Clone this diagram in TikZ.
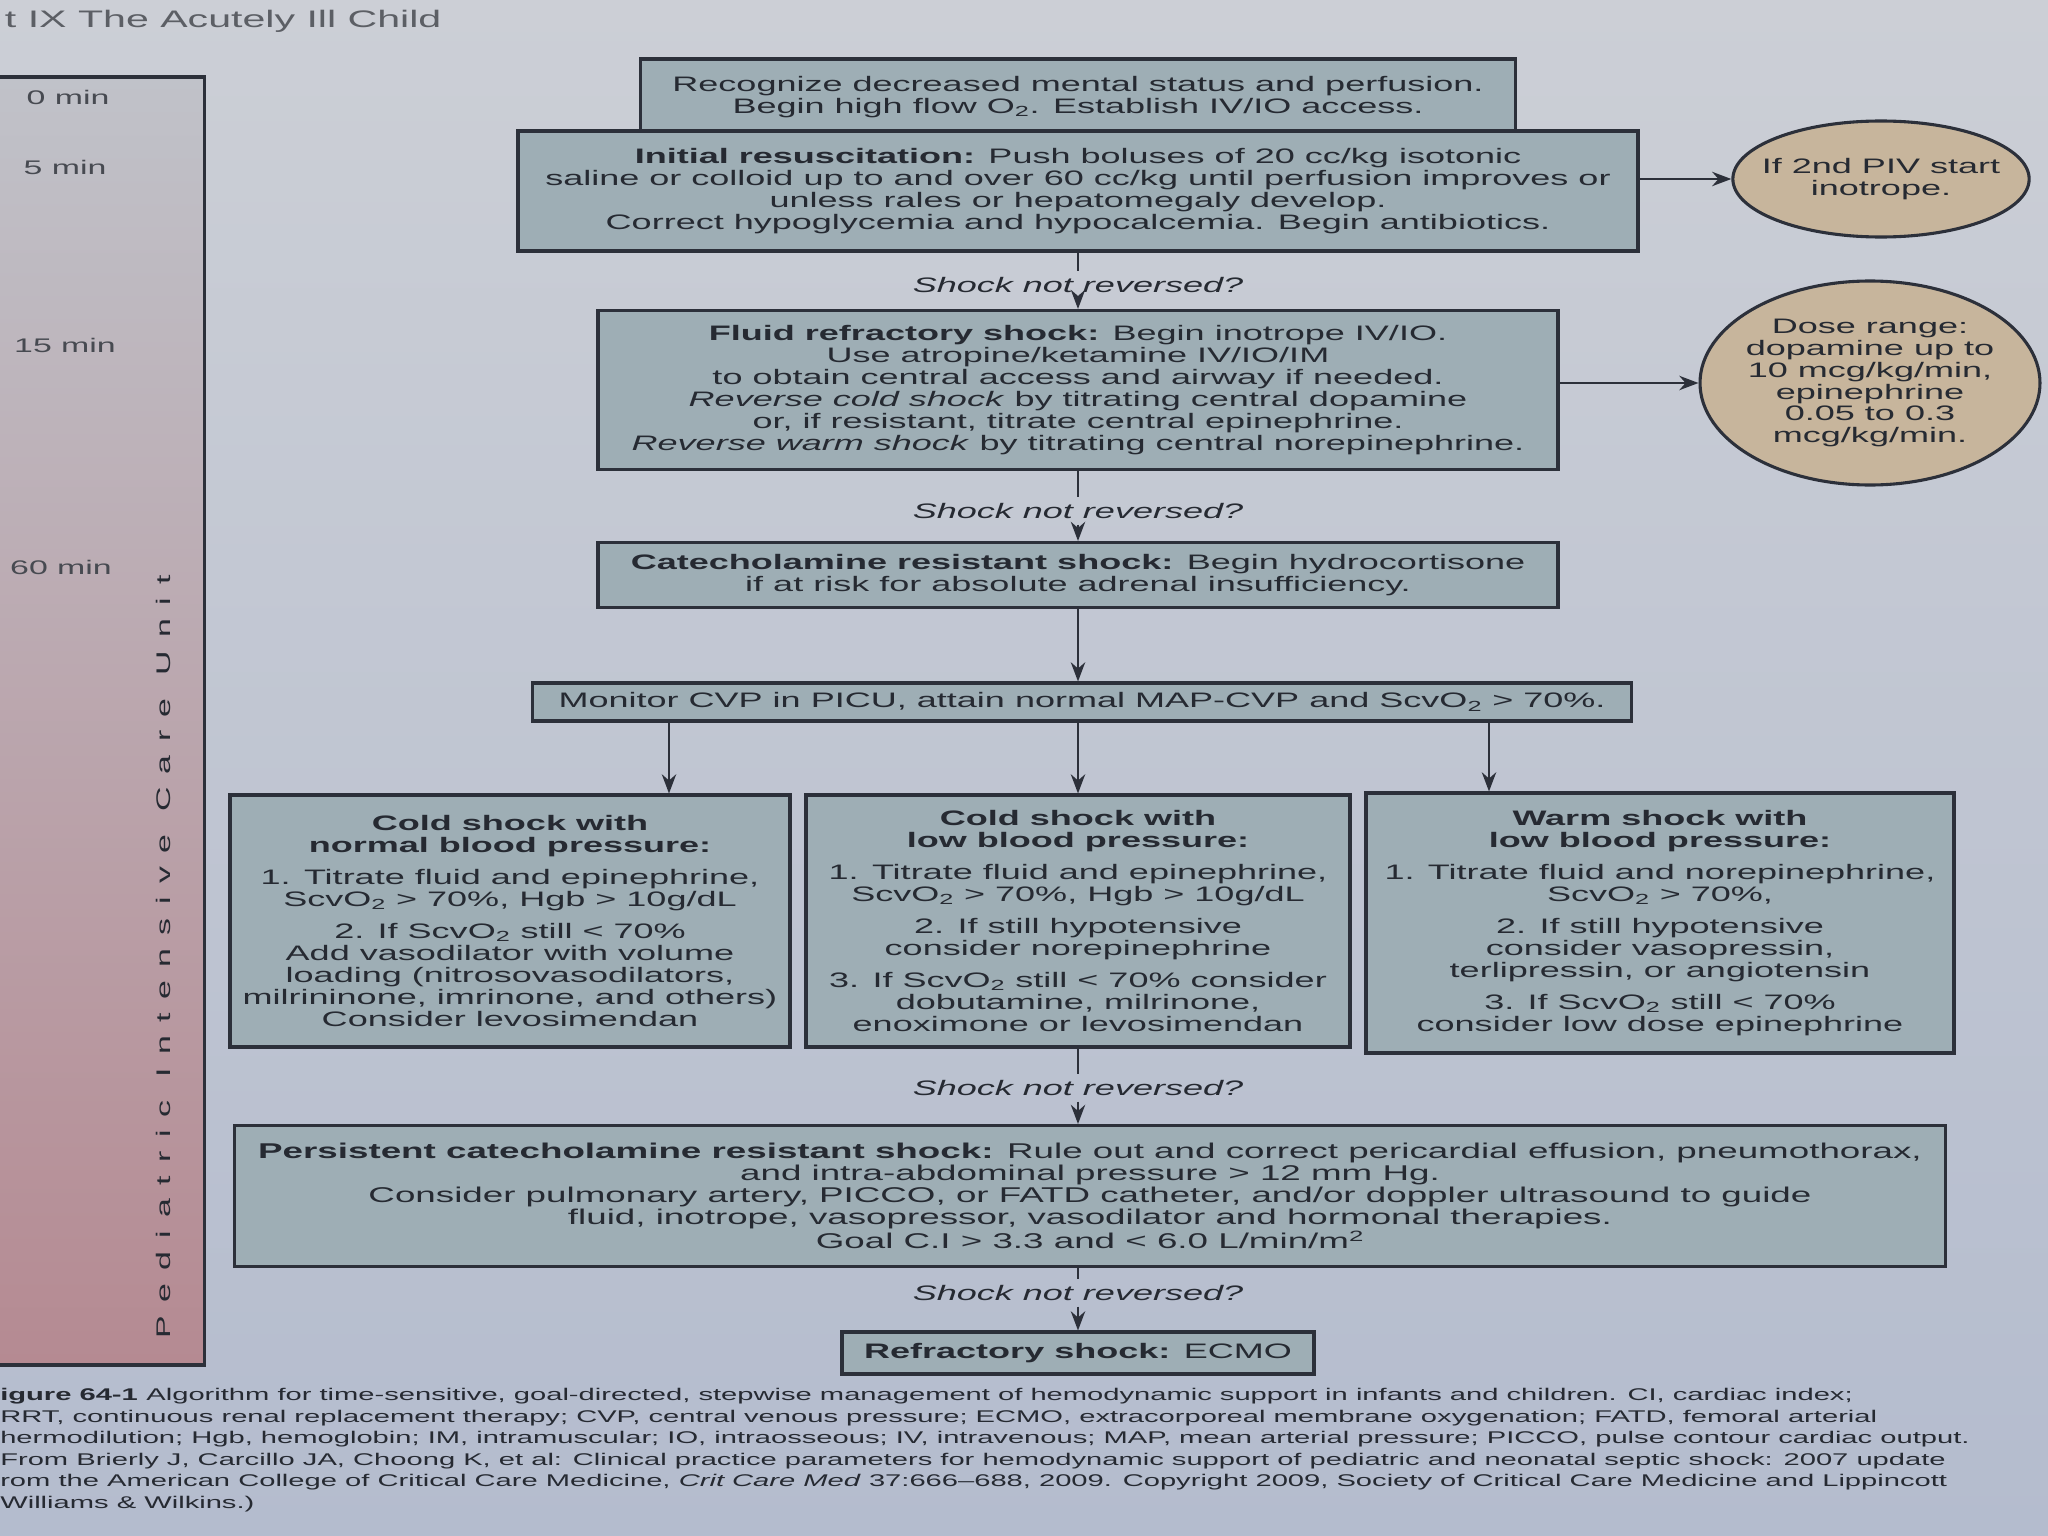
\documentclass[tikz,border=0pt]{standalone}
\usepackage{fontspec}
\setmainfont[FakeStretch=1.72]{Liberation Sans}
\usetikzlibrary{shapes.geometric, arrows.meta}
\definecolor{paper}{RGB}{204,207,214}
\definecolor{paperlow}{RGB}{180,188,206}
\definecolor{boxfill}{RGB}{158,174,181}
\definecolor{boxline}{RGB}{44,48,58}
\definecolor{ink}{RGB}{38,42,50}
\definecolor{tan}{RGB}{199,181,156}
\definecolor{bartop}{RGB}{192,194,201}
\definecolor{barlow}{RGB}{181,138,146}
\tikzstyle{blockgray} = [rectangle, draw=boxline, fill=boxfill, line width=2.2pt, align=center, text=ink, inner sep=2pt, font=\fontsize{14.9}{15.6}\selectfont]
\tikzstyle{blocktan} = [ellipse, draw=boxline, fill=tan, line width=2.2pt, align=center, text=ink, inner sep=0pt, font=\fontsize{14.9}{15.6}\selectfont]
\tikzstyle{query} = [text=ink, inner sep=4pt, font=\itshape\fontsize{14.9}{15.6}\selectfont]
\tikzstyle{tick} = [text=ink!85, font=\fontsize{14}{16}\selectfont]
\tikzstyle{link} = [line width=1.4pt, draw=boxline]
\tikzstyle{arrow} = [line width=1.4pt, draw=boxline, -{Stealth[length=4.8mm, width=3.6mm]}]

\begin{document}
\begin{tikzpicture}[x=0.25mm, y=-0.25mm]

\useasboundingbox (0,0) rectangle (2048,1536);
\shade [top color=paper, bottom color=paperlow] (0,0) rectangle (2048,1536);

\node (header) [anchor=west, text=ink!75, font=\fontsize{17}{19}\selectfont] at (0,21) {t IX The Acutely Ill Child};

\node (timebar) [rectangle, draw=boxline, line width=2.2pt, top color=bartop, bottom color=barlow, minimum width=53.75mm, minimum height=322mm] at (97,721) {};
\node (min0) [tick] at (68,97) {0 min};
\node (min5) [tick] at (65,167) {5 min};
\node (min15) [tick] at (65,345) {15 min};
\node (min60) [tick] at (61,567) {60 min};
\node (picu) [rotate=90, text=ink, font=\addfontfeature{LetterSpace=68}\fontsize{14}{16}\selectfont] at (163,957) {Pediatric Intensive Care Unit};

\node (recog) [blockgray, minimum width=218.75mm, minimum height=19mm] at (1078,97) {Recognize decreased mental status and perfusion.\\Begin high flow O\textsubscript{2}. Establish IV/IO access.};
\node (init) [blockgray, minimum width=280mm, minimum height=30mm] at (1078,191) {\textbf{Initial resuscitation:} Push boluses of 20 cc/kg isotonic\\saline or colloid up to and over 60 cc/kg until perfusion improves or\\unless rales or hepatomegaly develop.\\Correct hypoglycemia and hypocalcemia. Begin antibiotics.};
\node (circ1) [blocktan, minimum width=73mm, minimum height=29mm, inner xsep=-3.6mm] at (1881,179) {If 2nd PIV start\\inotrope.};
\node (query1) [query] at (1078,285) {Shock not reversed?};
\node (fluid) [blockgray, minimum width=240mm, minimum height=39.75mm] at (1078,390) {\textbf{Fluid refractory shock:} Begin inotrope IV/IO.\\Use atropine/ketamine IV/IO/IM\\to obtain central access and airway if needed.\\\textit{Reverse cold shock} by titrating central dopamine\\or, if resistant, titrate central epinephrine.\\\textit{Reverse warm shock} by titrating central norepinephrine.};
\node (circ2) [blocktan, minimum width=81.5mm, minimum height=51mm, inner xsep=-1mm] at (1870,383) {Dose range:\\dopamine up to\\10 mcg/kg/min,\\epinephrine\\0.05 to 0.3\\mcg/kg/min.};
\node (query2) [query] at (1078,511) {Shock not reversed?};
\node (catech) [blockgray, minimum width=240mm, minimum height=16.25mm] at (1078,575) {\textbf{Catecholamine resistant shock:} Begin hydrocortisone\\if at risk for absolute adrenal insufficiency.};
\node (monitor) [blockgray, minimum width=274.75mm, minimum height=9.5mm, inner sep=1pt] at (1082,702) {Monitor CVP in PICU, attain normal MAP-CVP and ScvO\textsubscript{2} > 70\%.};

\node (coldnorm) [blockgray, minimum width=140mm, minimum height=63mm] at (510,921) {\textbf{Cold shock with}\\\textbf{normal blood pressure:}\\[2.5mm]1. Titrate fluid and epinephrine,\\ScvO\textsubscript{2} > 70\%, Hgb > 10g/dL\\[2.5mm]2. If ScvO\textsubscript{2} still < 70\%\\Add vasodilator with volume\\loading (nitrosovasodilators,\\milrininone, imrinone, and others)\\Consider levosimendan};
\node (coldlow) [blockgray, minimum width=136mm, minimum height=63mm] at (1078,921) {\textbf{Cold shock with}\\\textbf{low blood pressure:}\\[2.5mm]1. Titrate fluid and epinephrine,\\ScvO\textsubscript{2} > 70\%, Hgb > 10g/dL\\[2.5mm]2. If still hypotensive\\consider norepinephrine\\[2.5mm]3. If ScvO\textsubscript{2} still < 70\% consider\\dobutamine, milrinone,\\enoximone or levosimendan};
\node (warmlow) [blockgray, minimum width=147mm, minimum height=65mm] at (1660,923) {\textbf{Warm shock with}\\\textbf{low blood pressure:}\\[2.5mm]1. Titrate fluid and norepinephrine,\\ScvO\textsubscript{2} > 70\%,\\[2.5mm]2. If still hypotensive\\consider vasopressin,\\terlipressin, or angiotensin\\[2.5mm]3. If ScvO\textsubscript{2} still < 70\%\\consider low dose epinephrine};
\coordinate (tapnorm) at (669,0);
\coordinate (tapwarm) at (1489,0);

\node (query3) [query] at (1078,1088) {Shock not reversed?};
\node (persist) [blockgray, minimum width=427.75mm, minimum height=35.25mm, font=\fontsize{15.2}{15.6}\selectfont] at (1090,1196) {\textbf{Persistent catecholamine resistant shock:} Rule out and correct pericardial effusion, pneumothorax,\\and intra-abdominal pressure > 12 mm Hg.\\Consider pulmonary artery, PICCO, or FATD catheter, and/or doppler ultrasound to guide\\fluid, inotrope, vasopressor, vasodilator and hormonal therapies.\\Goal C.I > 3.3 and < 6.0 L/min/m\textsuperscript{2}};
\node (query4) [query] at (1078,1293) {Shock not reversed?};
\node (ecmo) [blockgray, minimum width=118mm, minimum height=10.5mm, inner sep=1pt] at (1078,1353) {\textbf{Refractory shock:} ECMO};

\node (caption) [anchor=north west, align=left, inner sep=0pt, text=ink, font=\fontsize{12.05}{15.3}\selectfont] at (0,1388) {\textbf{igure 64-1}\enspace Algorithm for time-sensitive, goal-directed, stepwise management of hemodynamic support in infants and children. CI, cardiac index;\\RRT, continuous renal replacement therapy; CVP, central venous pressure; ECMO, extracorporeal membrane oxygenation; FATD, femoral arterial\\hermodilution; Hgb, hemoglobin; IM, intramuscular; IO, intraosseous; IV, intravenous; MAP, mean arterial pressure; PICCO, pulse contour cardiac output.\\From Brierly J, Carcillo JA, Choong K, et al: Clinical practice parameters for hemodynamic support of pediatric and neonatal septic shock: 2007 update\\rom the American College of Critical Care Medicine, \textit{Crit Care Med} 37:666--688, 2009. Copyright 2009, Society of Critical Care Medicine and Lippincott\\Williams \& Wilkins.)};

\draw [arrow] (init.east |- circ1.west) -- (circ1.west);
\draw [link] (init.south) -- (query1.north);
\draw [arrow] (query1.south) -- (fluid.north);
\draw [arrow] (fluid.east |- circ2.west) -- (circ2.west);
\draw [link] (fluid.south) -- (query2.north);
\draw [arrow] (query2.south) -- (catech.north);
\draw [arrow] (catech.south) -- (catech.south |- monitor.north);
\draw [arrow] (monitor.south -| tapnorm) -- (coldnorm.north -| tapnorm);
\draw [arrow] (monitor.south -| coldlow.north) -- (coldlow.north);
\draw [arrow] (monitor.south -| tapwarm) -- (warmlow.north -| tapwarm);
\draw [link] (coldlow.south) -- (query3.north);
\draw [arrow] (query3.south) -- (query3.south |- persist.north);
\draw [link] (persist.south -| query4.north) -- (query4.north);
\draw [arrow] (query4.south) -- (ecmo.north);

\end{tikzpicture}
\end{document}
